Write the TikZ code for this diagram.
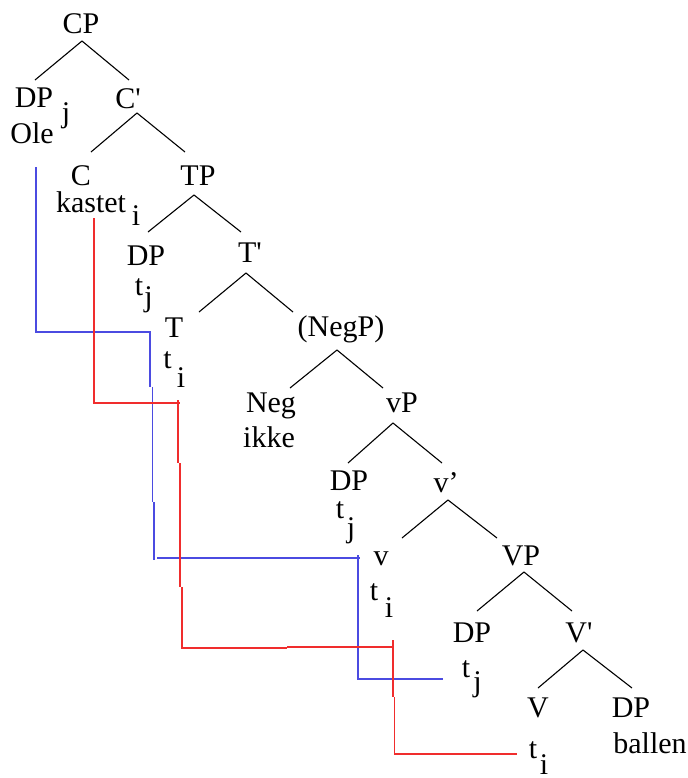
\documentclass[tikz,border=0pt]{standalone}
\usepackage{fontspec}
\setmainfont{Liberation Serif}
\newfontfamily\treefont{Liberation Serif}
\definecolor{traceblue}{RGB}{75,75,225}
\definecolor{tracered}{RGB}{240,45,45}
\begin{document}
\begin{tikzpicture}[x=0.5pt,y=-0.5pt,
  lab/.style={anchor=base,inner sep=0pt,font=\treefont\fontsize{15}{18}\selectfont},
  branch/.style={draw=black,line width=0.55pt},
  btrace/.style={draw=traceblue,line width=0.8pt},
  rtrace/.style={draw=tracered,line width=0.8pt}]
\useasboundingbox (0,0) rectangle (688,778);
\def\pr{\textquotesingle}
% labels
\node[lab] (CP) at (81,33) {CP};
\node[lab] (DPa) at (34,107) {DP};
\node[lab] (DPaj) at (66,122) {j};
\node[lab] (Ole) at (32,143) {Ole};
\node[lab] (Cbar) at (128,108) {C\pr};
\node[lab] (C) at (81,185) {C};
\node[lab] (kastet) at (91,212) {kastet};
\node[lab] (kasteti) at (136,225) {i};
\node[lab] (TP) at (198,185) {TP};
\node[lab] (DPb) at (146,265) {DP};
\node[lab] (DPbt) at (139,295) {t};
\node[lab] (DPbj) at (148.5,306) {j};
\node[lab] (Tbar) at (250,262) {T\pr};
\node[lab] (T) at (174,337) {T};
\node[lab] (Tt) at (167.5,368) {t};
\node[lab] (Ti) at (181,387) {i};
\node[lab] (NegP) at (341,336) {(NegP)};
\node[lab] (Neg) at (271,412) {Neg};
\node[lab] (ikke) at (269,447) {ikke};
\node[lab] (vP) at (402,412) {vP};
\node[lab] (DPc) at (349,490) {DP};
\node[lab] (DPct) at (340,518) {t};
\node[lab] (DPcj) at (351,537) {j};
\node[lab] (vbar) at (446,492) {v’};
\node[lab] (v) at (381,565) {v};
\node[lab] (vt) at (374,600) {t};
\node[lab] (vi) at (389,617) {i};
\node[lab] (VP) at (521,565) {VP};
\node[lab] (DPd) at (472,642) {DP};
\node[lab] (DPdt) at (466,677) {t};
\node[lab] (DPdj) at (477.5,691) {j};
\node[lab] (Vbar) at (579,642) {V\pr};
\node[lab] (V) at (538,717) {V};
\node[lab] (Vt) at (533,758) {t};
\node[lab] (Vi) at (544,774) {i};
\node[lab] (DPe) at (631,717) {DP};
\node[lab] (ballen) at (650,753) {ballen};
% branch points
\coordinate (CP-a) at (82,41);
\coordinate (DPa-t) at (35,80);
\coordinate (Cbar-t) at (129,80);
\coordinate (Cbar-a) at (137,113);
\coordinate (C-t) at (91,152);
\coordinate (TP-t) at (185,152);
\coordinate (TP-a) at (194,195);
\coordinate (DPb-t) at (148,232);
\coordinate (Tbar-t) at (241,232);
\coordinate (Tbar-a) at (246,273);
\coordinate (T-t) at (199,312);
\coordinate (NegP-t) at (293,312);
\coordinate (NegP-a) at (337,350);
\coordinate (Neg-t) at (290,388);
\coordinate (vP-t) at (383,388);
\coordinate (vP-a) at (393,423);
\coordinate (DPc-t) at (348,463);
\coordinate (vbar-t) at (442,463);
\coordinate (vbar-a) at (448,500);
\coordinate (v-t) at (402,538);
\coordinate (VP-t) at (497,538);
\coordinate (VP-a) at (524,572);
\coordinate (DPd-t) at (477,611);
\coordinate (Vbar-t) at (572,611);
\coordinate (Vbar-a) at (583,650);
\coordinate (V-t) at (538,688);
\coordinate (DPe-t) at (632,688);
\path[branch] (CP-a) -- (DPa-t) (CP-a) -- (Cbar-t);
\path[branch] (Cbar-a) -- (C-t) (Cbar-a) -- (TP-t);
\path[branch] (TP-a) -- (DPb-t) (TP-a) -- (Tbar-t);
\path[branch] (Tbar-a) -- (T-t) (Tbar-a) -- (NegP-t);
\path[branch] (NegP-a) -- (Neg-t) (NegP-a) -- (vP-t);
\path[branch] (vP-a) -- (DPc-t) (vP-a) -- (vbar-t);
\path[branch] (vbar-a) -- (v-t) (vbar-a) -- (VP-t);
\path[branch] (VP-a) -- (DPd-t) (VP-a) -- (Vbar-t);
\path[branch] (Vbar-a) -- (V-t) (Vbar-a) -- (DPe-t);
% movement traces
\coordinate (jstart) at (36,167);
\coordinate (jend) at (443,679);
\coordinate (istart) at (94,218);
\coordinate (iend) at (517,754);
\path[btrace] (jstart) -- (36,332) -- (150,332) -- (150,387)
  (152.5,387) -- (152.5,502) (154,502) -- (154,560);
\path[btrace] (157,558) -- (360,558);
\path[btrace] (358,555) -- (358,679) -- (jend);
\path[rtrace] (istart) -- (94,403) -- (180,403);
\path[rtrace] (178,400) -- (178,463) (180,463) -- (180,587) (182,587) -- (182,648) -- (287,648)
  (287,647) -- (393,647);
\path[rtrace] (393,640) -- (393,697) (394.5,697) -- (394.5,754) -- (iend);
\end{tikzpicture}
\end{document}
